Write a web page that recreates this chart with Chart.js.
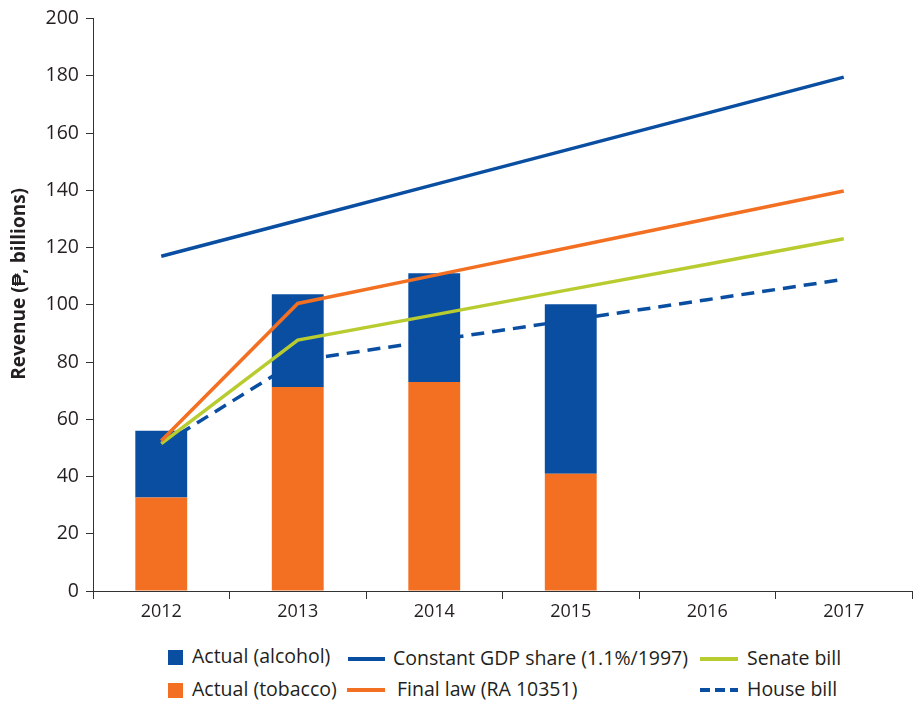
<!DOCTYPE html>
<html>
<head>
<meta charset="utf-8">
<script src="https://cdn.jsdelivr.net/npm/chart.js@4.4.1/dist/chart.umd.min.js"></script>
<style>
  body { margin: 0; background: #fff; }
  #wrap { position: relative; width: 914px; height: 702px; }
  #box { position: absolute; left: 0; top: 0; width: 914px; height: 632px; }
  .lg { position: absolute; font: 19.5px 'Open Sans', sans-serif; color: #231f20; white-space: nowrap; line-height: 24px; }
  .sw { position: absolute; }
</style>
</head>
<body>
<div id="wrap">
  <div id="box"><canvas id="c"></canvas></div>
  <div id="legend"></div>
</div>
<script>
  /* ---------- data (₱ billions) ---------- */
  const years      = ['2012', '2013', '2014', '2015', '2016', '2017'];
  const tobacco    = [32.7, 71.3, 73.0, 41.0, null, null];
  const alcohol    = [23.3, 32.4, 38.0, 59.2, null, null];
  const gdpShare   = [117.0, 129.5, 142.0, 154.5, 167.0, 179.6];
  const finalLaw   = [52.5, 100.5, 110.3, 120.1, 130.0, 139.8];
  const senateBill = [51.5, 87.7, 96.5, 105.4, 114.2, 123.1];
  const houseBill  = [51.0, 80.5, 87.6, 94.7, 101.8, 108.9];
  const yTicks     = [0, 20, 40, 60, 80, 100, 120, 140, 160, 180, 200];

  const BLUE = '#0a4ea2', ORANGE = '#f37022', GREEN = '#b8cc2f', INK = '#231f20';
  const FONT = "'Open Sans', sans-serif";
  const Y_TITLE = 'Revenue (₱, billions)';

  const line = (label, data, color, order, extra) => Object.assign({
    type: 'line', label, data, borderColor: color, backgroundColor: color,
    borderWidth: 3.5, pointRadius: 0, tension: 0, fill: false, order, stack: label,
  }, extra || {});

  // y title sits a little above the plot's middle in the original
  const yTitle = {
    id: 'yTitle',
    afterDraw(chart) {
      const { ctx, chartArea } = chart;
      ctx.save();
      ctx.translate(20, (chartArea.top + chartArea.bottom) / 2 - 21);
      ctx.rotate(-Math.PI / 2);
      ctx.font = 'bold 19px ' + FONT;
      ctx.fillStyle = INK;
      ctx.textAlign = 'center';
      ctx.textBaseline = 'middle';
      ctx.fillText(Y_TITLE, 0, 0);
      ctx.restore();
    },
  };

  new Chart(document.getElementById('c'), {
    type: 'bar',
    data: {
      labels: years,
      datasets: [
        { label: 'Actual (tobacco)', data: tobacco, backgroundColor: ORANGE, stack: 'actual', order: 2,
          barPercentage: 0.38, categoryPercentage: 1 },
        { label: 'Actual (alcohol)', data: alcohol, backgroundColor: BLUE, stack: 'actual', order: 2,
          barPercentage: 0.38, categoryPercentage: 1 },
        line('Constant GDP share (1.1%/1997)', gdpShare, BLUE, 1),
        line('Final law (RA 10351)', finalLaw, ORANGE, 1),
        line('Senate bill', senateBill, GREEN, 1),
        line('House bill', houseBill, BLUE, 3, { borderDash: [13, 8] }),
      ],
    },
    options: {
      responsive: true, maintainAspectRatio: false, animation: false,
      layout: { padding: { top: 15, right: 2, left: 0, bottom: 0 } },
      plugins: { legend: { display: false }, tooltip: { enabled: false } },
      scales: {
        x: {
          offset: true,
          grid: { offset: true, drawOnChartArea: false, tickLength: 8, color: '#333' },
          border: { color: '#333', width: 1 },
          ticks: { color: INK, padding: 2, font: { family: FONT, size: 18 } },
          afterFit: (s) => { s.height = 41; },
        },
        y: {
          stacked: true, min: 0, max: 200,
          afterBuildTicks: (s) => { s.ticks = yTicks.map((v) => ({ value: v })); },
          grid: { drawOnChartArea: false, tickLength: 7, color: '#333' },
          border: { color: '#333', width: 1 },
          ticks: { color: INK, padding: 7, font: { family: FONT, size: 19.5 } },
          afterFit: (s) => { s.width = 93; },
        },
      },
    },
    plugins: [yTitle],
  });

  /* ---------- legend (3 columns, filled column by column) ---------- */
  const legendItems = [
    { text: 'Actual (alcohol)', kind: 'box', color: BLUE, x: 168, w: 15, tx: 192, y: 657 },
    { text: 'Actual (tobacco)', kind: 'box', color: ORANGE, x: 168, w: 15, tx: 192, y: 690 },
    { text: 'Constant GDP share (1.1%/1997)', kind: 'line', color: BLUE, x: 348, w: 37, tx: 393, y: 659 },
    { text: 'Final law (RA 10351)', kind: 'line', color: ORANGE, x: 347, w: 38, tx: 397, y: 690 },
    { text: 'Senate bill', kind: 'line', color: GREEN, x: 700, w: 38, tx: 747, y: 659 },
    { text: 'House bill', kind: 'dash', color: BLUE, x: 700, w: 38, tx: 747, y: 690 },
  ];
  const lg = document.getElementById('legend');
  legendItems.forEach((it) => {
    const sw = document.createElement('div');
    sw.className = 'sw';
    if (it.kind === 'box') {
      Object.assign(sw.style, { left: it.x + 'px', top: (it.y - 7) + 'px', width: it.w + 'px', height: '15px', background: it.color });
    } else if (it.kind === 'line') {
      Object.assign(sw.style, { left: it.x + 'px', top: (it.y - 2) + 'px', width: it.w + 'px', height: '4px', background: it.color });
    } else {
      Object.assign(sw.style, { left: it.x + 'px', top: (it.y - 2) + 'px', width: it.w + 'px', height: '4px',
        background: `repeating-linear-gradient(90deg, ${it.color} 0 10px, transparent 10px 15px)` });
    }
    lg.appendChild(sw);
    const t = document.createElement('div');
    t.className = 'lg';
    t.textContent = it.text;
    Object.assign(t.style, { left: it.tx + 'px', top: (it.y - 13) + 'px' });
    lg.appendChild(t);
  });
</script>
</body>
</html>
